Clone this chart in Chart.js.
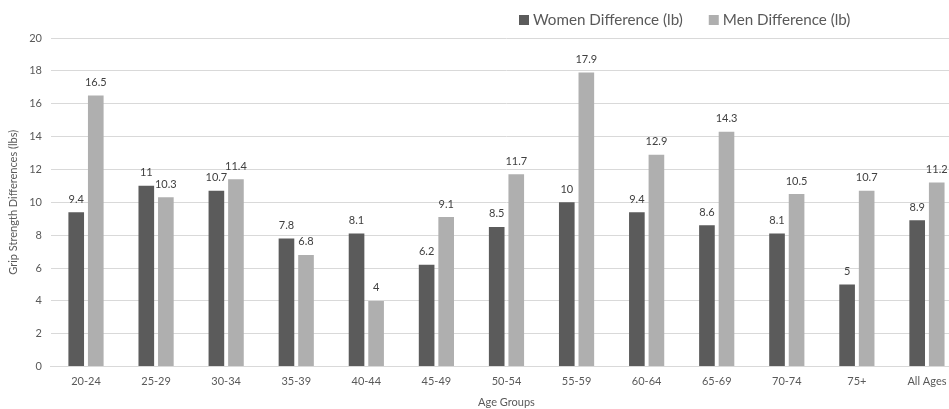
<!DOCTYPE html>
<html>
<head>
<meta charset="utf-8">
<script src="https://cdn.jsdelivr.net/npm/chart.js@4"></script>
<style>
html,body{margin:0;padding:0;background:#fff;overflow:hidden;}
#wrap{width:949px;height:409px;overflow:hidden;}
</style>
</head>
<body>
<div id="wrap"><canvas id="c" width="962" height="409"></canvas></div>
<script>
const categories = ["20-24","25-29","30-34","35-39","40-44","45-49","50-54","55-59","60-64","65-69","70-74","75+","All Ages"];
const womenValues = [9.4, 11, 10.7, 7.8, 8.1, 6.2, 8.5, 10, 9.4, 8.6, 8.1, 5, 8.9];
const menValues = [16.5, 10.3, 11.4, 6.8, 4, 9.1, 11.7, 17.9, 12.9, 14.3, 10.5, 10.7, 11.2];
const seriesNames = ["Women Difference (lb)", "Men Difference (lb)"];
const yTicks = [0, 2, 4, 6, 8, 10, 12, 14, 16, 18, 20];

const FONT = "Lato, 'Open Sans', sans-serif";
const TXT = "#595959";

const dataLabels = {
  id: 'dataLabels',
  afterDatasetsDraw(chart) {
    const ctx = chart.ctx;
    ctx.save();
    ctx.font = "11px " + FONT;
    ctx.fillStyle = "#404040";
    ctx.textAlign = "center";
    ctx.textBaseline = "middle";
    chart.data.datasets.forEach((ds, i) => {
      const meta = chart.getDatasetMeta(i);
      meta.data.forEach((bar, j) => {
        ctx.fillText(String(ds.data[j]), bar.x, bar.y - 13);
      });
    });
    ctx.restore();
  }
};

const customLegend = {
  id: 'customLegend',
  afterDraw(chart) {
    const ctx = chart.ctx;
    ctx.save();
    ctx.font = "15.2px " + FONT;
    ctx.textBaseline = "middle";
    ctx.textAlign = "left";
    let x = 519;
    const y = 20;
    chart.data.datasets.forEach((ds) => {
      ctx.fillStyle = ds.backgroundColor;
      ctx.fillRect(x, y - 5, 10, 10);
      ctx.fillStyle = TXT;
      ctx.fillText(ds.label, x + 14, y);
      x += 14 + ctx.measureText(ds.label).width + 26;
    });
    ctx.restore();
  }
};

new Chart(document.getElementById('c'), {
  type: 'bar',
  data: {
    labels: categories,
    datasets: [
      { label: seriesNames[0], data: womenValues, backgroundColor: "#5b5b5b", barPercentage: 0.8, categoryPercentage: 0.558 },
      { label: seriesNames[1], data: menValues, backgroundColor: "#afafaf", barPercentage: 0.8, categoryPercentage: 0.558 }
    ]
  },
  options: {
    responsive: false,
    animation: false,
    layout: { padding: { top: 38, right: 0, left: 7, bottom: 0 } },
    plugins: { legend: { display: false }, tooltip: { enabled: false } },
    scales: {
      x: {
        grid: { display: false, drawTicks: false },
        border: { color: "#d9d9d9", width: 1 },
        ticks: { color: TXT, font: { family: FONT, size: 11 }, padding: 8, maxRotation: 0 },
        title: { display: true, text: "Age Groups", color: TXT, font: { family: FONT, size: 11 }, padding: { top: 0, bottom: 0 } }
      },
      y: {
        min: 0, max: 20,
        afterBuildTicks(scale) { scale.ticks = yTicks.map(v => ({ value: v })); },
        grid: { color: "#d9d9d9", drawTicks: false },
        border: { display: false },
        ticks: { color: TXT, font: { family: FONT, size: 11 }, padding: 9 },
        title: { display: true, text: "Grip Strength Differences (lbs)", color: TXT, font: { family: FONT, size: 11 }, padding: { top: 0, bottom: 0 } }
      }
    }
  },
  plugins: [dataLabels, customLegend]
});
</script>
</body>
</html>
